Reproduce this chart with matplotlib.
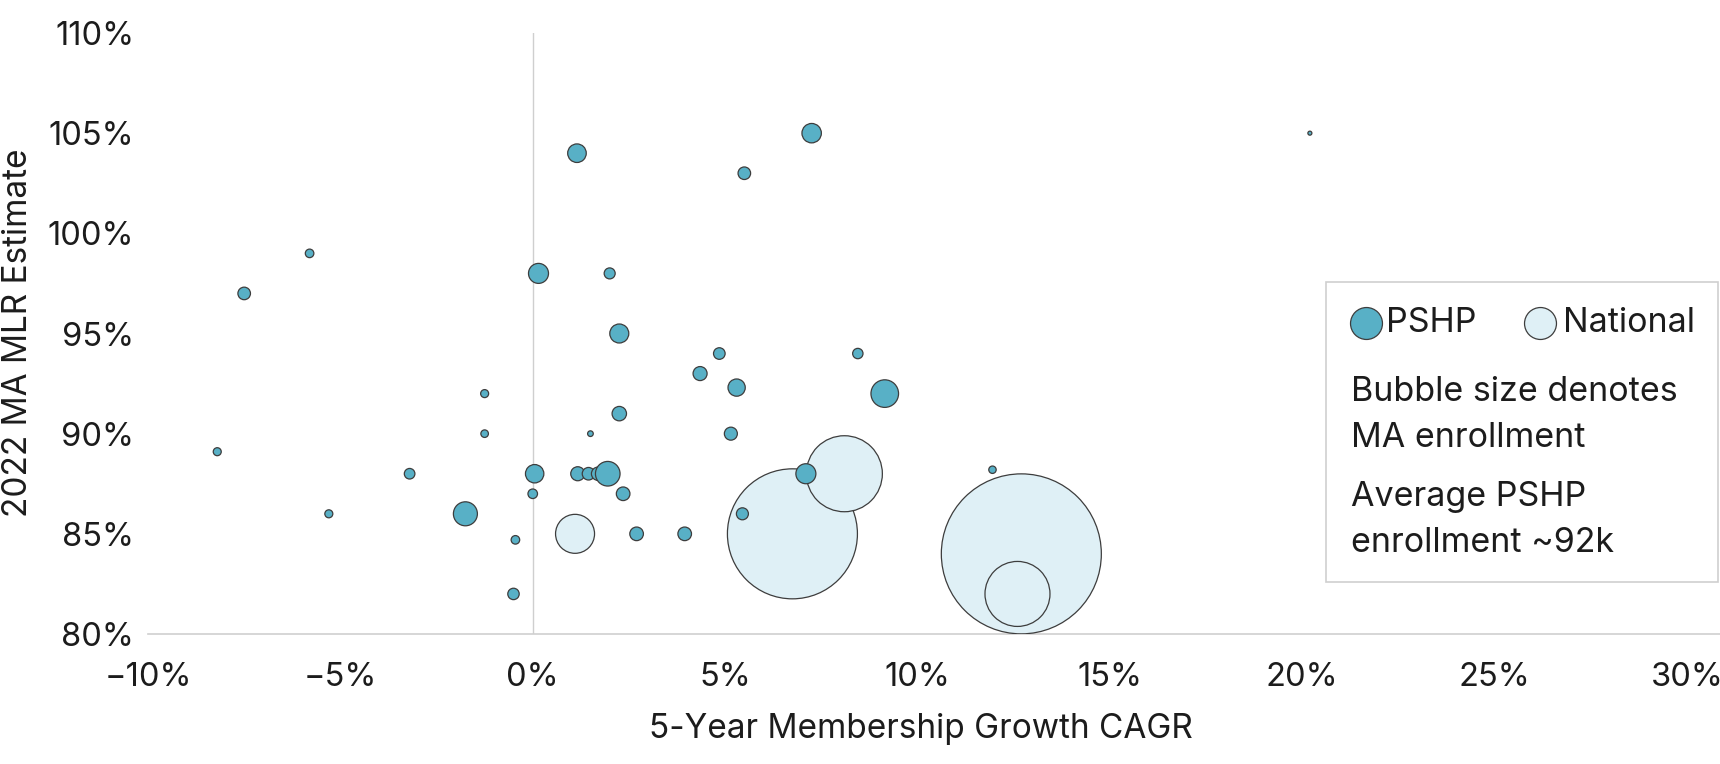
import matplotlib
matplotlib.use("Agg")
import matplotlib.pyplot as plt
from matplotlib.lines import Line2D
from matplotlib.patches import Rectangle
from matplotlib.ticker import FuncFormatter, MultipleLocator
import numpy as np

plt.rcParams['font.family'] = ['Inter', 'DejaVu Sans']

# PSHP plans: 5-yr CAGR (%), 2022 MLR (%), MA enrollment (k)
pshp_growth = [1.15, 7.25, 5.5, 20.2, -5.8, -7.5, 0.15, 2.0, 2.25, 4.85,
               8.45, 4.35, 5.3, 9.15, -1.25, 2.25, -1.25, 1.5, 5.15, -8.2,
               -3.2, 0.05, 1.17, 1.45, 1.7, 1.95, 7.1, 11.95, 0.0, 2.35,
               -5.3, -1.75, 5.45, 2.7, 3.95, -0.45, -0.5]
pshp_mlr = [104, 105, 103, 105, 99, 97, 98, 98, 95, 94,
            94, 93, 92.3, 92, 92, 91, 90, 90, 90, 89.1,
            88, 88, 88, 88, 88, 88, 88, 88.2, 87, 87,
            86, 86, 86, 85, 85, 84.7, 82]
pshp_enroll = [151, 165, 69, 7, 32, 69, 175, 53, 158, 59,
               47, 86, 130, 333, 28, 91, 25, 14, 74, 28,
               49, 148, 86, 69, 79, 265, 175, 24, 40, 81,
               28, 252, 63, 81, 81, 32, 57]

# National plans
nat_growth = [12.7, 6.75, 8.1, 12.6, 1.1]
nat_mlr = [84, 85, 88, 82, 85]
nat_enroll = [11200, 7394, 2527, 1848, 665]

PSHP_COLOR = '#58b0c6'
NAT_COLOR = '#dff0f6'
EDGE = '#3d3d3d'
TEXT = '#1c1c1c'
GRID = '#cfcfcf'

W, H = 1720, 764
fig = plt.figure(figsize=(W / 100, H / 100), dpi=100)
ax = fig.add_axes([148 / W, (H - 634) / H, (W - 148) / W, (634 - 33) / H])

size_k = 1.185  # marker area (pt^2) per thousand members

ax.scatter(np.array(nat_growth) / 100, np.array(nat_mlr) / 100,
           s=np.array(nat_enroll) * size_k, color=NAT_COLOR,
           edgecolor=EDGE, linewidth=0.9, zorder=3)
ax.scatter(np.array(pshp_growth) / 100, np.array(pshp_mlr) / 100,
           s=np.array(pshp_enroll) * size_k, color=PSHP_COLOR,
           edgecolor=EDGE, linewidth=0.9, zorder=4)

ax.axvline(0, color=GRID, lw=1, zorder=1)

ax.set_xlim(-0.10, 0.3086)
ax.set_ylim(0.80, 1.10)
ax.xaxis.set_major_locator(MultipleLocator(0.05))
ax.yaxis.set_major_locator(MultipleLocator(0.05))
fmt = FuncFormatter(lambda v, p: f"{v * 100:.0f}%".replace('-', '\u2212'))
ax.xaxis.set_major_formatter(fmt)
ax.yaxis.set_major_formatter(fmt)
ax.tick_params(axis='x', length=0, pad=20, labelsize=23.5, labelcolor=TEXT)
ax.tick_params(axis='y', length=0, pad=10, labelsize=23.5, labelcolor=TEXT)

for side in ['top', 'right', 'left']:
    ax.spines[side].set_visible(False)
ax.spines['bottom'].set_color(GRID)
ax.spines['bottom'].set_linewidth(1.2)

fig.text(921 / W, 1 - 729 / H, '5-Year Membership Growth CAGR', ha='center',
         va='center', fontsize=24, color=TEXT)
fig.text(18 / W, 1 - 333 / H, '2022 MA MLR Estimate', ha='center',
         va='center', rotation=90, fontsize=24, color=TEXT)

# legend box
fig.add_artist(Rectangle((1326 / W, 1 - 582 / H), (1718 - 1326) / W, 300 / H,
                         transform=fig.transFigure, facecolor='white',
                         edgecolor=GRID, linewidth=1.2, zorder=5))
fig.add_artist(Line2D([1366 / W], [1 - 323 / H], marker='o', markersize=23,
                      markerfacecolor=PSHP_COLOR, markeredgecolor=EDGE,
                      markeredgewidth=0.9, transform=fig.transFigure, zorder=6))
fig.add_artist(Line2D([1540 / W], [1 - 323 / H], marker='o', markersize=23,
                      markerfacecolor=NAT_COLOR, markeredgecolor=EDGE,
                      markeredgewidth=0.9, transform=fig.transFigure, zorder=6))
fig.text(1386 / W, 1 - 323 / H, 'PSHP', va='center', fontsize=24.5, color=TEXT, zorder=7)
fig.text(1563 / W, 1 - 323 / H, 'National', va='center', fontsize=24.5, color=TEXT, zorder=7)
for txt, y in [('Bubble size denotes', 392), ('MA enrollment', 438),
               ('Average PSHP', 497), ('enrollment ~92k', 543)]:
    fig.text(1351 / W, 1 - y / H, txt, va='center', fontsize=24.5, color=TEXT, zorder=7)

fig.savefig('out.png', dpi=100)
